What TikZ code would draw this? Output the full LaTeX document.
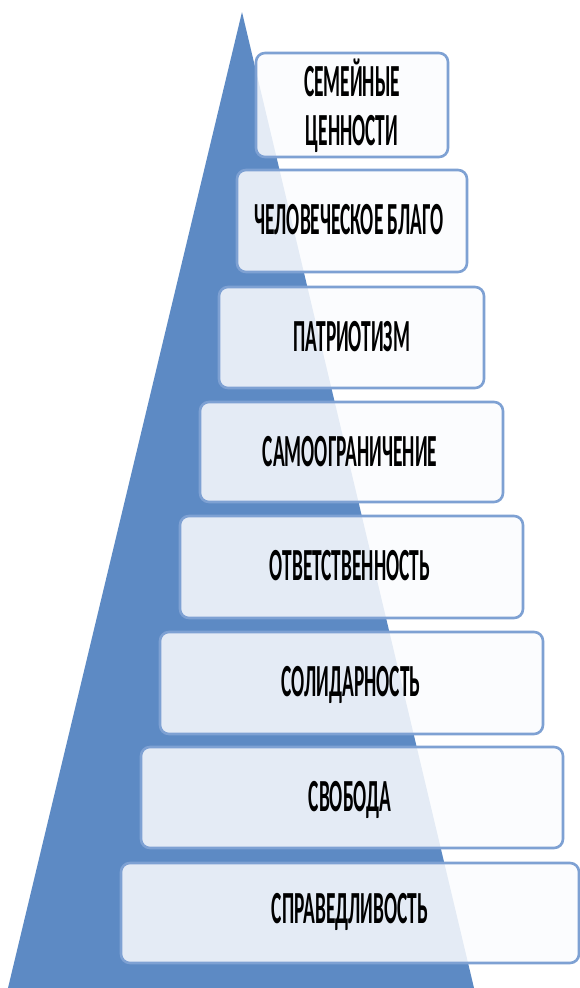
\documentclass[tikz,border=0pt]{standalone}
\usepackage{fontspec}
\setmainfont{Carlito}
\definecolor{tri}{HTML}{5D8AC4}
\definecolor{edge}{HTML}{7EA1D3}
\definecolor{boxfill}{HTML}{FBFCFE}
\tikzset{
  lvl/.style={draw=edge, line width=2.6pt, rounded corners=9pt, fill=boxfill,
    fill opacity=0.86, text opacity=1, draw opacity=1, inner sep=0pt,
    text=black, font=\fontsize{20}{22}\selectfont\bfseries, align=center},
}
\newcommand{\stretchtxt}[1]{\scalebox{0.97}[2.3]{#1}}
\begin{document}
\begin{tikzpicture}[x=1pt,y=-1pt]
\useasboundingbox (0,0) rectangle (580,988);
\fill[white] (0,0) rectangle (580,988);
\fill[tri] (242,12) -- (474,988) -- (8,988) -- cycle;
\node[lvl, minimum width=192pt, minimum height=104pt] (b1) at (352,105) {};
\node[lvl, minimum width=230pt, minimum height=102pt] (b2) at (352,221) {};
\node[lvl, minimum width=265pt, minimum height=101pt] (b3) at (351.5,337.5) {};
\node[lvl, minimum width=303pt, minimum height=100pt] (b4) at (351.5,452) {};
\node[lvl, minimum width=343pt, minimum height=102pt] (b5) at (351.5,567) {};
\node[lvl, minimum width=383pt, minimum height=102pt] (b6) at (351.5,683) {};
\node[lvl, minimum width=422pt, minimum height=101pt] (b7) at (352,797.5) {};
\node[lvl, minimum width=458pt, minimum height=100pt] (b8) at (350,913) {};
\begin{scope}[every node/.style={text=black, font=\fontsize{20}{22}\selectfont\bfseries, inner sep=0pt}]
\node[anchor=base] (t1a) at (352,96) {\stretchtxt{СЕМЕЙНЫЕ}};
\node[anchor=base] (t1b) at (352,145) {\stretchtxt{ЦЕННОСТИ}};
\node (t2) at (349,220) {\stretchtxt{ЧЕЛОВЕЧЕСКОЕ БЛАГО}};
\node (t3) at (352,337) {\stretchtxt{ПАТРИОТИЗМ}};
\node (t4) at (350,452) {\stretchtxt{САМООГРАНИЧЕНИЕ}};
\node (t5) at (350,566) {\stretchtxt{ОТВЕТСТВЕННОСТЬ}};
\node (t6) at (351,685) {\stretchtxt{СОЛИДАРНОСТЬ}};
\node (t7) at (350,800) {\stretchtxt{СВОБОДА}};
\node (t8) at (350,912) {\stretchtxt{СПРАВЕДЛИВОСТЬ}};
\end{scope}
\end{tikzpicture}
\end{document}
